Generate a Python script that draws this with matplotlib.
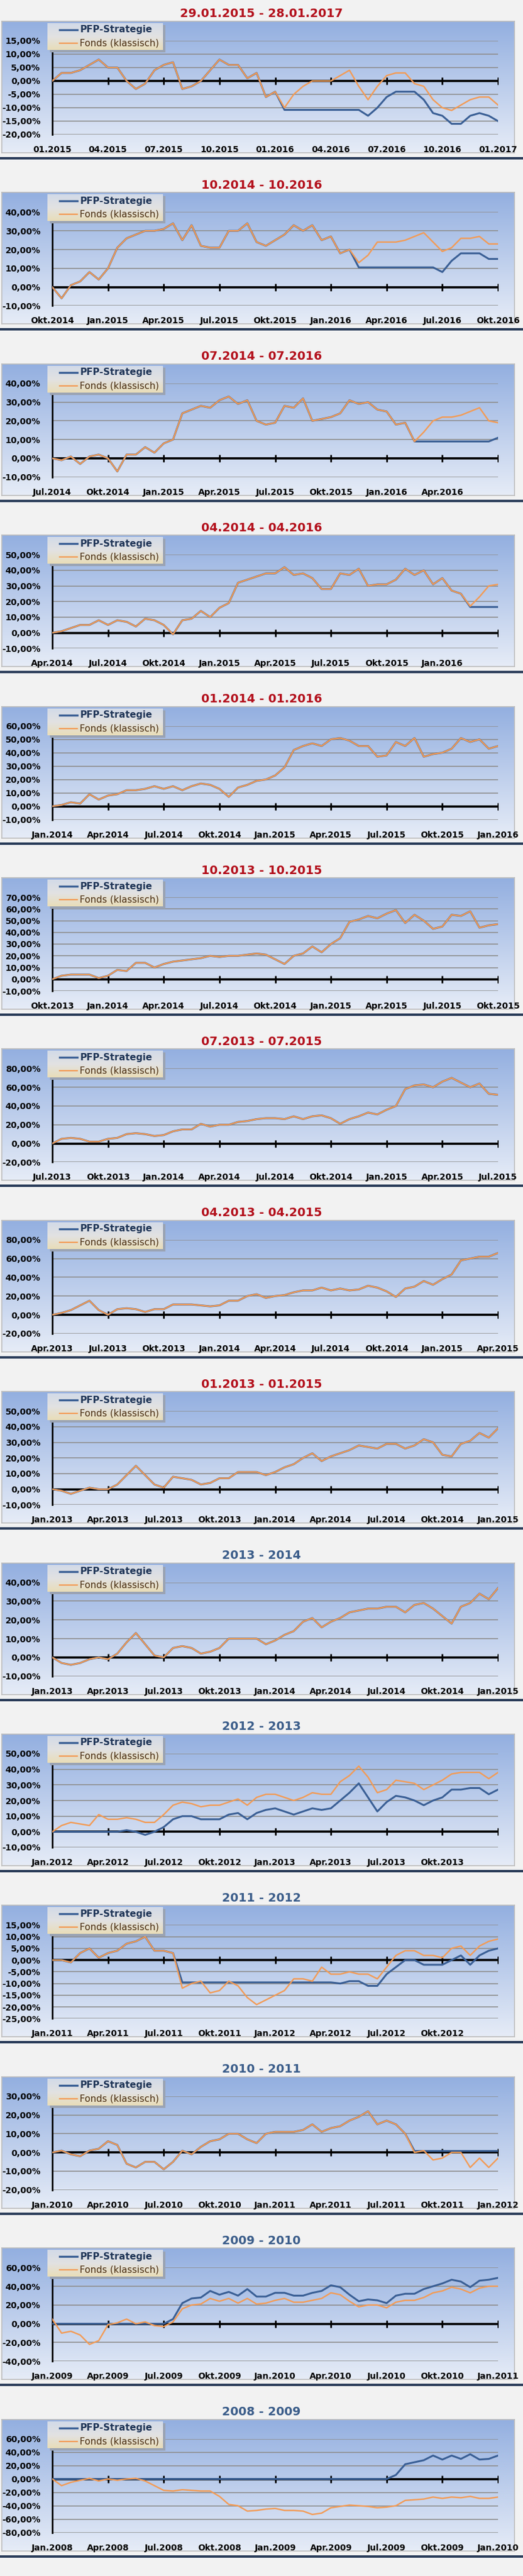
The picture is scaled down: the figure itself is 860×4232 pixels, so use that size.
import numpy as np
import matplotlib
matplotlib.use("Agg")
import matplotlib.pyplot as plt
from matplotlib.colors import LinearSegmentedColormap
from matplotlib.ticker import FuncFormatter

FONT = ['Liberation Sans Narrow', 'DejaVu Sans']
plt.rcParams['font.family'] = FONT

titles = ["29.01.2015 - 28.01.2017", "10.2014 - 10.2016", "07.2014 - 07.2016",
          "04.2014 - 04.2016", "01.2014 - 01.2016", "10.2013 - 10.2015",
          "07.2013 - 07.2015", "04.2013 - 04.2015", "01.2013 - 01.2015",
          "2013 - 2014", "2012 - 2013", "2011 - 2012", "2010 - 2011",
          "2009 - 2010", "2008 - 2009"]
title_red = [True]*9 + [False]*6
yranges = [(-20, 15, 5), (-10, 40, 10), (-10, 40, 10), (-10, 50, 10), (-10, 60, 10),
           (-10, 70, 10), (-20, 80, 20), (-20, 80, 20), (-10, 50, 10), (-10, 40, 10),
           (-10, 50, 10), (-25, 15, 5), (-20, 30, 10), (-40, 60, 20), (-80, 60, 20)]
xstarts = [(1, 2015, True, 9), (10, 2014, False, 9), (7, 2014, False, 8), (4, 2014, False, 8),
           (1, 2014, False, 9), (10, 2013, False, 9), (7, 2013, False, 9), (4, 2013, False, 9),
           (1, 2013, False, 9), (1, 2013, False, 9), (1, 2012, False, 8), (1, 2011, False, 8),
           (1, 2010, False, 9), (1, 2009, False, 9), (1, 2008, False, 9)]
MON = {1: "Jan.", 4: "Apr.", 7: "Jul.", 10: "Okt."}

f1 = [0,3,3,4,6,8,5,5,0,-3,-1,4,6,7,-3,-2,0,4,8,6,6,1,3,-6,-4,-10,-5,-2,0,0,0,2,4,-2,-7,-2,2,3,3,-1,-2,-7,-10,-11,-9,-7,-6,-6,-9]
p1 = f1[:25] + [-10.8]*9 + [-13,-10,-6,-4,-4,-4,-7,-12,-13,-16,-16,-13,-12,-13,-15]
f2 = [0,-6,1,3,8,4,10,21,26,28,30,30,31,34,25,33,22,21,21,30,30,34,24,22,25,28,33,30,33,25,27,18,20,13,17,24,24,24,25,27,29,24,19,21,26,26,27,23,23]
p2 = f2[:33] + [10.5]*9 + [8,14,18,18,18,15,15]
f3 = [0,-1,1,-3,1,2,0,-7,2,2,6,3,8,10,24,26,28,27,31,33,29,31,20,18,19,28,27,32,20,21,22,24,31,29,30,26,25,18,19,9,14,20,22,22,23,25,27,20,19]
p3 = f3[:40] + [9]*8 + [11]
f4 = [0,1,3,5,5,8,5,8,7,4,9,8,5,-1,8,9,14,10,16,19,32,34,36,38,38,42,37,38,35,28,28,38,37,41,30,31,31,34,41,37,40,31,35,27,25,17,23,30,31]
p4 = f4[:45] + [16.5]*4
f5 = [0,1,3,2,9,5,8,9,12,12,13,15,13,15,12,15,17,16,13,7,14,16,19,20,23,29,42,45,47,45,50,51,49,45,45,37,38,48,45,51,37,39,40,43,51,48,50,43,45]
p5 = list(f5)
f6 = [0,3,4,4,4,1,3,8,7,14,14,10,13,15,16,17,18,20,19,20,20,21,22,21,17,13,20,22,28,23,30,35,49,51,54,52,56,59,48,55,50,43,45,55,54,58,44,46,47]
p6 = list(f6)
f7 = [0,5,6,5,2,2,5,6,10,11,10,8,9,13,15,15,21,18,20,20,23,24,26,27,27,26,29,26,29,30,27,21,26,29,33,31,36,40,58,62,63,60,66,70,65,60,64,53,52]
p7 = list(f7)
f8 = [0,2,5,10,15,5,0,6,7,6,3,6,6,11,11,11,10,9,10,15,15,20,22,18,20,21,24,26,26,29,26,28,26,27,31,29,25,19,28,30,36,32,38,43,58,60,62,62,66]
p8 = list(f8)
f9 = [0,-1,-3,-1,1,0,0,3,9,15,9,3,1,8,7,6,3,4,7,7,11,11,11,9,11,14,16,20,23,18,21,23,25,28,27,26,29,29,26,28,32,30,22,21,29,31,36,33,39]
p9 = list(f9)
f10 = [0,-3,-4,-3,-1,0,-1,2,8,13,7,1,0,5,6,5,2,3,5,10,10,10,10,7,9,12,14,19,21,16,19,21,24,25,26,26,27,27,24,28,29,26,22,18,27,29,34,31,37]
p10 = list(f10)
f11 = [0,4,6,5,4,11,8,8,9,8,6,6,11,17,19,18,16,17,17,19,21,17,22,24,24,22,20,22,25,24,24,32,36,42,35,25,27,33,32,31,27,30,33,37,38,38,38,34,38]
p11 = [0]*7 + [0,1,0,-2,0,3,8,10,10,8,8,8,11,12,8,12,14,15,13,11,13,15,14,15,20,25,31,22,13,19,23,22,20,17,20,22,27,27,28,28,24,27]
f12 = [0,0,-1,3,5,1,3,4,7,8,10,4,4,3,-12,-10,-9,-14,-13,-9,-11,-16,-19,-17,-15,-13,-8,-8,-9,-3,-6,-6,-5,-6,-6,-8,-3,2,4,4,2,2,1,5,6,2,6,8,9]
p12 = f12[:14] + [-9.5]*17 + [-10,-9,-9,-11,-11,-6,-3,0,0,-2,-2,-2,0,2,-2,2,4,5]
f13 = [0,1,-1,-2,1,2,6,4,-6,-8,-5,-5,-9,-5,1,-1,3,6,7,10,10,7,5,10,11,11,11,12,15,11,13,14,17,19,22,15,17,15,10,0,1,-4,-3,0,0,-8,-3,-8,-3]
p13 = f13[:39] + [0.8]*10
f14 = [5,-10,-8,-12,-22,-18,-1,1,5,0,2,-2,-3,2,16,20,21,27,24,27,22,27,21,22,25,27,23,23,25,27,33,31,24,18,20,20,17,23,25,25,28,33,35,39,37,33,38,40,40]
p14 = [0]*13 + [5,22,27,28,35,31,34,30,37,29,29,33,33,30,30,33,35,41,39,31,24,26,25,22,30,32,32,37,40,43,47,45,39,46,47,49]
f15 = [0,-10,-5,-2,1,-3,0,-2,0,1,-3,-10,-17,-18,-16,-17,-18,-18,-26,-38,-40,-48,-47,-45,-44,-47,-47,-48,-53,-51,-43,-41,-39,-40,-41,-43,-42,-40,-32,-31,-30,-27,-29,-27,-28,-26,-29,-29,-27]
p15 = [0]*37 + [6,22,25,28,35,29,35,30,37,29,30,35]

fonds = [f1,f2,f3,f4,f5,f6,f7,f8,f9,f10,f11,f12,f13,f14,f15]
pfp = [p1,p2,p3,p4,p5,p6,p7,p8,p9,p10,p11,p12,p13,p14,p15]

W, H = 860, 4232
PITCH = 281.4
fig = plt.figure(figsize=(W/100, H/100), dpi=100)
fig.patch.set_facecolor('#f2f2f2')

def rect(x0, y0, x1, y1):
    return [x0/W, 1 - y1/H, (x1-x0)/W, (y1-y0)/H]

bg_cmap = LinearSegmentedColormap.from_list('bg', ['#e6ecf7', '#93afe0'])
lg_cmap = LinearSegmentedColormap.from_list('lg', ['#e9ddb8', '#e2e2e2', '#d2dae8'])
grad = np.linspace(0, 1, 256).reshape(-1, 1)

def labels_for(m, y, numeric, n):
    out = []
    for k in range(9):
        mm = (m - 1 + 3*k) % 12 + 1
        yy = y + (m - 1 + 3*k) // 12
        if k >= n:
            out.append('')
        elif numeric:
            out.append(f"{mm:02d}.{yy}")
        else:
            out.append(f"{MON[mm]}{yy}")
    return out

x = np.arange(49) * 0.5
for i in range(15):
    T = PITCH * i
    fig.text(430/W, 1 - (T+23)/H, titles[i], ha='center', va='center',
             fontsize=14, fontweight='bold', family=FONT,
             color='#b3101c' if title_red[i] else '#3b5d8a')
    fa = fig.add_axes(rect(3, T+35, 846, T+251))
    fa.imshow(grad, aspect='auto', cmap=bg_cmap, origin='lower', extent=[0, 1, 0, 1])
    fa.set_xticks([]); fa.set_yticks([])
    for s in fa.spines.values():
        s.set_color('#bdbdbd'); s.set_linewidth(1.2)
    sep = fig.add_axes(rect(0, T+258, 860, T+262))
    sep.set_facecolor('#2b3d5a'); sep.set_xticks([]); sep.set_yticks([])
    for s in sep.spines.values():
        s.set_visible(False)
    ax = fig.add_axes(rect(86, T+67, 819, T+221))
    ax.patch.set_alpha(0)
    lo, hi, st = yranges[i]
    ax.set_ylim(lo, hi)
    ax.set_xlim(0, 24)
    yt = np.arange(lo, hi + st/2, st)
    ax.set_yticks(yt)
    ax.yaxis.set_major_formatter(FuncFormatter(lambda v, p: f"{v:.2f}%".replace('.', ',')))
    for v in yt:
        if v != 0:
            ax.axhline(v, color='#8f8f8f', lw=1.2, zorder=1)
    ax.axhline(0, color='black', lw=2.6, zorder=2)
    xt = np.arange(0, 25, 3)
    ax.plot(xt, np.zeros_like(xt), ls='none', marker='|', ms=9, mew=2, color='black', zorder=2)
    ax.plot(x, pfp[i], color='#3a5f95', lw=2.2, zorder=3)
    ax.plot(x, fonds[i], color='#f39b55', lw=1.7, zorder=4)
    ax.set_xticks(xt)
    ax.set_xticklabels(labels_for(*xstarts[i]))
    ax.tick_params(axis='both', length=0, labelsize=10)
    ax.tick_params(axis='x', pad=13)
    ax.tick_params(axis='y', pad=14)
    for lab in ax.get_xticklabels() + ax.get_yticklabels():
        lab.set_fontweight('bold')
    for s in ['top', 'right', 'bottom']:
        ax.spines[s].set_visible(False)
    ax.spines['left'].set_linewidth(2)
    ax.spines['left'].set_color('black')
    sh = fig.add_axes(rect(82, T+41, 272, T+86))
    sh.set_facecolor('#9aa3b3'); sh.set_xticks([]); sh.set_yticks([])
    for s in sh.spines.values():
        s.set_visible(False)
    lg = fig.add_axes(rect(78, T+38, 268, T+82))
    lg.imshow(grad, aspect='auto', cmap=lg_cmap, origin='lower', extent=[0, 1, 0, 1])
    lg.set_xlim(0, 1); lg.set_ylim(0, 1)
    lg.set_xticks([]); lg.set_yticks([])
    for s in lg.spines.values():
        s.set_visible(False)
    lg.plot([0.105, 0.26], [0.75, 0.75], color='#3a5f95', lw=2.4)
    lg.plot([0.105, 0.26], [0.25, 0.25], color='#f39b55', lw=1.6)
    lg.text(0.28, 0.75, 'PFP-Strategie', va='center', fontsize=11, fontweight='bold', color='#1f3557')
    lg.text(0.28, 0.25, 'Fonds (klassisch)', va='center', fontsize=11, color='#4a2e12')

fig.savefig('out.png', dpi=100, facecolor=fig.get_facecolor())
